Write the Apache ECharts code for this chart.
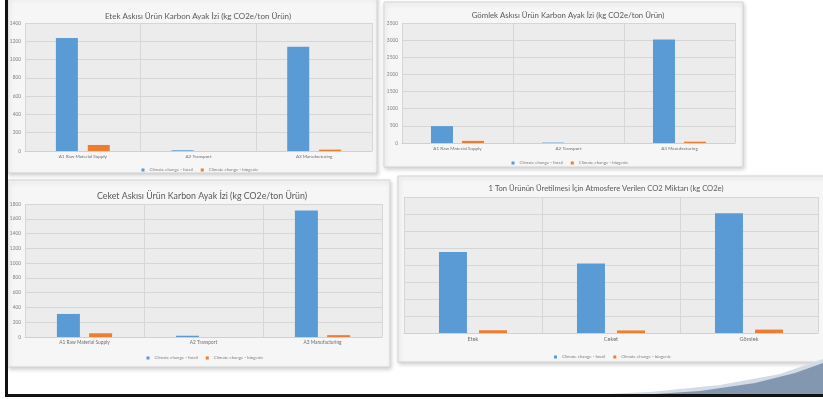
<!DOCTYPE html>
<html>
<head>
<meta charset="utf-8">
<script src="https://cdn.jsdelivr.net/npm/echarts@6/dist/echarts.min.js"></script>
<style>
  html, body { margin: 0; padding: 0; background: #ffffff; }
  #c { width: 823px; height: 399px; }
</style>
</head>
<body>
<div id="c"></div>
<script>
// Life-cycle stages and products
const processCats = ['A1 Raw Material Supply', 'A2 Transport', 'A3 Manufacturing'];
const productCats = ['Etek', 'Ceket', 'Gömlek'];
const seriesNames = ['Climate change - fossil', 'Climate change - biogenic'];

// kg CO2e per ton of product, by stage
const etekFossil = [1236, 8, 1141];
const etekBiogenic = [66, 0, 15];
const gomlekFossil = [493, 12, 3020];
const gomlekBiogenic = [62, 0, 38];
const ceketFossil = [312, 17, 1712];
const ceketBiogenic = [50, 0, 25];

// kg CO2e emitted per ton of product
const totalFossil = [2385, 2041, 3525];
const totalBiogenic = [81, 75, 100];

const chartTitles = [
  'Etek Askısı Ürün Karbon Ayak İzi (kg CO2e/ton Ürün)',
  'Gömlek Askısı Ürün Karbon Ayak İzi (kg CO2e/ton Ürün)',
  'Ceket Askısı Ürün Karbon Ayak İzi (kg CO2e/ton Ürün)',
  '1 Ton Ürünün Üretilmesi İçin Atmosfere Verilen CO2 Miktarı (kg CO2e)'
];

const BLUE = '#5b9bd5';
const ORANGE = '#ed7d31';
const FONT = 'Lato, "Liberation Sans", sans-serif';

const layouts = [
  { tx: 193, ty: 13, grid: { left: 25, top: 23, width: 347, height: 128 }, max: 1400, interval: 200, barW: 22, gap: '45%', legY: 166, titleSize: 8, catSize: 4.6, yShow: true },
  { tx: 563, ty: 12, grid: { left: 402, top: 23, width: 333, height: 120 }, max: 3500, interval: 500, barW: 22, gap: '41%', legY: 159, titleSize: 7.8, catSize: 4.6, yShow: true },
  { tx: 197, ty: 192, grid: { left: 25, top: 204, width: 357, height: 133 }, max: 1800, interval: 200, barW: 23, gap: '40%', legY: 354, titleSize: 8.8, catSize: 4.8, yShow: true },
  { tx: 601, ty: 184, grid: { left: 404, top: 197, width: 414, height: 136 }, max: 4000, interval: 500, barW: 28, gap: '43%', legY: 353, titleSize: 7.6, catSize: 5.6, yShow: false }
];

const chartData = [
  { cats: processCats, fossil: etekFossil, bio: etekBiogenic },
  { cats: processCats, fossil: gomlekFossil, bio: gomlekBiogenic },
  { cats: processCats, fossil: ceketFossil, bio: ceketBiogenic },
  { cats: productCats, fossil: totalFossil, bio: totalBiogenic }
];

// Card backgrounds behind each chart
const panels = [
  { x: 8, y: -3, w: 369, h: 176 },
  { x: 384, y: 2, w: 359, h: 165 },
  { x: 8, y: 180, w: 382, h: 187 },
  { x: 398, y: 176, w: 432, h: 186 }
];

const option = {
  animation: false,
  backgroundColor: '#ffffff',
  textStyle: { fontFamily: FONT },
  color: [BLUE, ORANGE],
  title: [], legend: [], grid: [], xAxis: [], yAxis: [], series: [],
  graphic: { elements: [] }
};

panels.forEach(function (p) {
  option.graphic.elements.push({
    type: 'rect', z: -10, silent: true,
    shape: { x: p.x, y: p.y, width: p.w, height: p.h },
    style: { fill: '#f6f6f6', stroke: '#d4d4d4', lineWidth: 1, shadowBlur: 4, shadowColor: 'rgba(0,0,0,0.18)', shadowOffsetX: 1, shadowOffsetY: 2 }
  });
});

// Slide decoration: bottom-right swoosh and frame lines
option.graphic.elements.push(
  { type: 'polygon', z: -5, silent: true,
    shape: { points: [[585, 395], [650, 392], [720, 385], [780, 374], [823, 359], [823, 395]] },
    style: { fill: '#d3dbe6' } },
  { type: 'polygon', z: -4, silent: true,
    shape: { points: [[640, 395], [700, 391], [755, 383], [795, 373], [823, 363], [823, 395]] },
    style: { fill: '#8497b0' } },
  { type: 'rect', z: 20, silent: true, shape: { x: 5, y: 0, width: 3, height: 397 }, style: { fill: '#111111' } },
  { type: 'rect', z: 20, silent: true, shape: { x: 5, y: 394, width: 818, height: 3 }, style: { fill: '#111111' } }
);

layouts.forEach(function (L, i) {
  const d = chartData[i];
  option.title.push({
    text: chartTitles[i], left: L.tx, top: L.ty - L.titleSize * 0.65, textAlign: 'center',
    textStyle: { fontSize: L.titleSize, fontWeight: 'normal', color: '#595959', fontFamily: FONT }
  });
  option.legend.push({
    data: seriesNames, left: L.grid.left + L.grid.width / 2 - 62, top: L.legY - 3,
    orient: 'horizontal', itemWidth: 3, itemHeight: 3, itemGap: 8, icon: 'rect',
    textStyle: { fontSize: 4.4, color: '#7f7f7f' }
  });
  option.grid.push(Object.assign({ show: true, backgroundColor: '#ececec', borderWidth: 0 }, L.grid));
  option.xAxis.push({
    type: 'category', gridIndex: i, data: d.cats,
    axisLine: { lineStyle: { color: '#d0d0d0' } }, axisTick: { show: false },
    splitLine: { show: true, lineStyle: { color: '#d6d6d6', width: 1 } },
    axisLabel: { fontSize: L.catSize, color: '#6f6f6f', margin: 3 }
  });
  option.yAxis.push({
    type: 'value', gridIndex: i, min: 0, max: L.max, interval: L.interval,
    axisLine: { show: false }, axisTick: { show: false },
    splitLine: { lineStyle: { color: '#d6d6d6', width: 1 } },
    axisLabel: { show: L.yShow, fontSize: 4.8, color: '#7f7f7f', margin: 4, formatter: function (v) { return String(v); } }
  });
  option.series.push(
    { name: seriesNames[0], type: 'bar', xAxisIndex: i, yAxisIndex: i, data: d.fossil, barWidth: L.barW, barGap: L.gap, itemStyle: { color: BLUE } },
    { name: seriesNames[1], type: 'bar', xAxisIndex: i, yAxisIndex: i, data: d.bio, barWidth: L.barW, barGap: L.gap, itemStyle: { color: ORANGE } }
  );
});

const chart = echarts.init(document.getElementById('c'), null, { renderer: 'canvas' });
chart.setOption(option);
</script>
</body>
</html>
